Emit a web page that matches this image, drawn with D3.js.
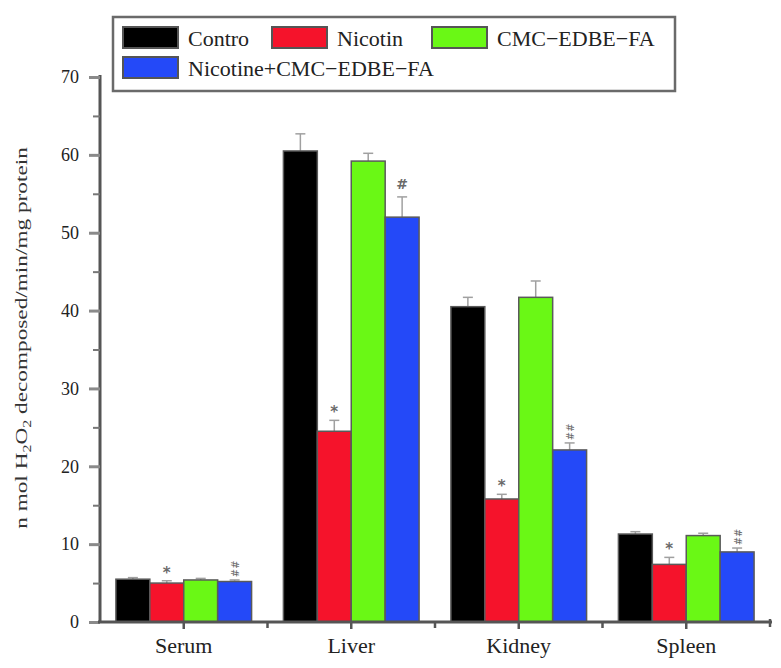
<!DOCTYPE html>
<html>
<head>
<meta charset="utf-8">
<script src="https://cdn.jsdelivr.net/npm/d3@7"></script>
<style>
  html, body { margin: 0; padding: 0; background: #fff; }
  svg { display: block; }
  svg text { font-family: "Liberation Serif", "Times New Roman", serif; }
</style>
</head>
<body>
<svg id="chart" width="781" height="668"></svg>
<script>
// ---- data ----
const categories = ["Serum", "Liver", "Kidney", "Spleen"];
const seriesNames = ["Contro", "Nicotin", "CMC\u2212EDBE\u2212FA", "Nicotine+CMC\u2212EDBE\u2212FA"];
const controValues = [5.5, 60.5, 40.5, 11.3];
const nicotinValues = [5.0, 24.5, 15.8, 7.4];
const cmcValues = [5.4, 59.2, 41.7, 11.1];
const comboValues = [5.2, 52.0, 22.1, 9.0];
const controErrors = [0.2, 2.2, 1.2, 0.3];
const nicotinErrors = [0.3, 1.4, 0.6, 0.9];
const cmcErrors = [0.2, 1.0, 2.1, 0.3];
const comboErrors = [0.2, 2.6, 0.9, 0.5];
const nicotinMarks = ["*", "*", "*", "*"];
const comboMarks = ["##", "#", "##", "##"];
const controMarks = ["", "", "", ""];
const cmcMarks = ["", "", "", ""];
const yTickValues = [0, 5, 10, 15, 20, 25, 30, 35, 40, 45, 50, 55, 60, 65, 70];
const yLabelValues = [0, 10, 20, 30, 40, 50, 60, 70];
const colors = ["#000000", "#f5132b", "#6af815", "#2449f8"];

const seriesValues = [controValues, nicotinValues, cmcValues, comboValues];
const seriesErrors = [controErrors, nicotinErrors, cmcErrors, comboErrors];
const seriesMarks = [controMarks, nicotinMarks, cmcMarks, comboMarks];

const svg = d3.select("#chart");
const serif = "Liberation Serif, Times New Roman, serif";

const x0 = d3.scaleBand().domain(categories).range([100, 770]).paddingInner(0.19).paddingOuter(0.095);
const x1 = d3.scaleBand().domain(d3.range(seriesNames.length)).range([0, x0.bandwidth()]);
const y = d3.scaleLinear().domain([0, 70]).range([622, 77]);

// ---- bars ----
const groups = svg.append("g").selectAll("g").data(categories).join("g")
  .attr("transform", d => `translate(${x0(d)},0)`);

groups.each(function(cat, ci) {
  const g = d3.select(this);
  seriesNames.forEach((s, si) => {
    const v = seriesValues[si][ci];
    const e = seriesErrors[si][ci];
    const bx = x1(si);
    const bw = x1.bandwidth();
    const cx = bx + bw / 2;
    g.append("line").attr("x1", cx).attr("x2", cx).attr("y1", y(v)).attr("y2", y(v + e))
      .attr("stroke", "#a0a0a0").attr("stroke-width", 1.5);
    g.append("line").attr("x1", cx - 5).attr("x2", cx + 5).attr("y1", y(v + e)).attr("y2", y(v + e))
      .attr("stroke", "#a0a0a0").attr("stroke-width", 1.5);
    g.append("rect")
      .attr("x", bx).attr("width", bw)
      .attr("y", y(v)).attr("height", y(0) - y(v))
      .attr("fill", colors[si]).attr("stroke", "#5a5a5a").attr("stroke-width", 1.5);
    const m = seriesMarks[si][ci];
    if (m) {
      const my = y(v + e) - 11;
      const t = g.append("text").text(m)
        .attr("fill", "#6a6a6a").attr("text-anchor", "middle").attr("dominant-baseline", "central")
        .style("font-family", "DejaVu Sans, sans-serif");
      if (m === "##") {
        t.attr("font-size", 10).attr("transform", `translate(${cx},${my}) rotate(90)`);
      } else if (m === "#") {
        t.attr("font-size", 14).attr("font-weight", "bold").attr("transform", `translate(${cx},${my - 2})`);
      } else {
        t.attr("font-size", 15).attr("font-weight", "bold").attr("transform", `translate(${cx},${my + 3})`);
      }
    }
  });
});

// ---- y axis ----
const yAxis = svg.append("g").attr("transform", "translate(100,0)")
  .call(d3.axisLeft(y).tickValues(yTickValues).tickSize(10).tickFormat(d => yLabelValues.includes(d) ? d : ""));
yAxis.select(".domain").attr("stroke", "#555").attr("stroke-width", 3).attr("d", `M0,${y(70) - 2}V${y(0)}`);
yAxis.selectAll(".tick line")
  .attr("stroke", d => d % 10 === 0 ? "#8a8a8a" : "#777")
  .attr("stroke-width", d => d % 10 === 0 ? 3 : 2)
  .attr("x2", d => d % 10 === 0 ? -11 : -7);
yAxis.selectAll(".tick text").attr("x", -21).attr("font-size", 18)
  .style("font-family", serif).attr("fill", "#222");

// ---- x axis ----
const xAxis = svg.append("g").attr("transform", `translate(0,${y(0)})`);
xAxis.append("line").attr("x1", 98).attr("x2", 772).attr("y1", 0).attr("y2", 0)
  .attr("stroke", "#555").attr("stroke-width", 3);
const boundaries = categories.slice(1).map(c => x0(c) - x0.step() * x0.paddingInner() / 2);
xAxis.selectAll(".ctick").data(categories).join("line")
  .attr("x1", d => x0(d) + x0.bandwidth() / 2).attr("x2", d => x0(d) + x0.bandwidth() / 2)
  .attr("y1", 0).attr("y2", 7).attr("stroke", "#555").attr("stroke-width", 2.5);
xAxis.selectAll(".btick").data(boundaries).join("line")
  .attr("x1", d => d).attr("x2", d => d).attr("y1", 0).attr("y2", 6)
  .attr("stroke", "#555").attr("stroke-width", 2.5);
xAxis.append("line").attr("x1", 770).attr("x2", 770).attr("y1", -3).attr("y2", 5)
  .attr("stroke", "#555").attr("stroke-width", 2.5);
xAxis.selectAll(".xlabel").data(categories).join("text")
  .attr("x", d => x0(d) + x0.bandwidth() / 2).attr("y", 31)
  .attr("text-anchor", "middle").attr("font-size", 22).attr("fill", "#222").text(d => d);

// ---- y title ----
const yt = svg.append("text")
  .attr("transform", "translate(27,338) rotate(-90) scale(1.33,1)")
  .attr("text-anchor", "middle").attr("font-size", 17.5).attr("fill", "#333");
yt.append("tspan").text("n mol H");
yt.append("tspan").text("2").attr("font-size", 12).attr("dy", 4);
yt.append("tspan").text("O").attr("dy", -4);
yt.append("tspan").text("2").attr("font-size", 12).attr("dy", 4);
yt.append("tspan").text(" decomposed/min/mg protein").attr("dy", -4);

// ---- legend ----
const legend = svg.append("g");
legend.append("rect").attr("x", 113).attr("y", 17).attr("width", 562).attr("height", 74)
  .attr("fill", "#fff").attr("stroke", "#6a6a6a").attr("stroke-width", 2.5);
const legendPos = [[123, 27], [272, 27], [432, 27], [123, 57]];
seriesNames.forEach((s, i) => {
  const [lx, ly] = legendPos[i];
  legend.append("rect").attr("x", lx).attr("y", ly).attr("width", 55).attr("height", 21)
    .attr("fill", colors[i]).attr("stroke", "#555").attr("stroke-width", 2);
  legend.append("text").attr("x", lx + 65).attr("y", ly + 19)
    .attr("font-size", 22).attr("fill", "#222").text(s);
});
</script>
</body>
</html>
